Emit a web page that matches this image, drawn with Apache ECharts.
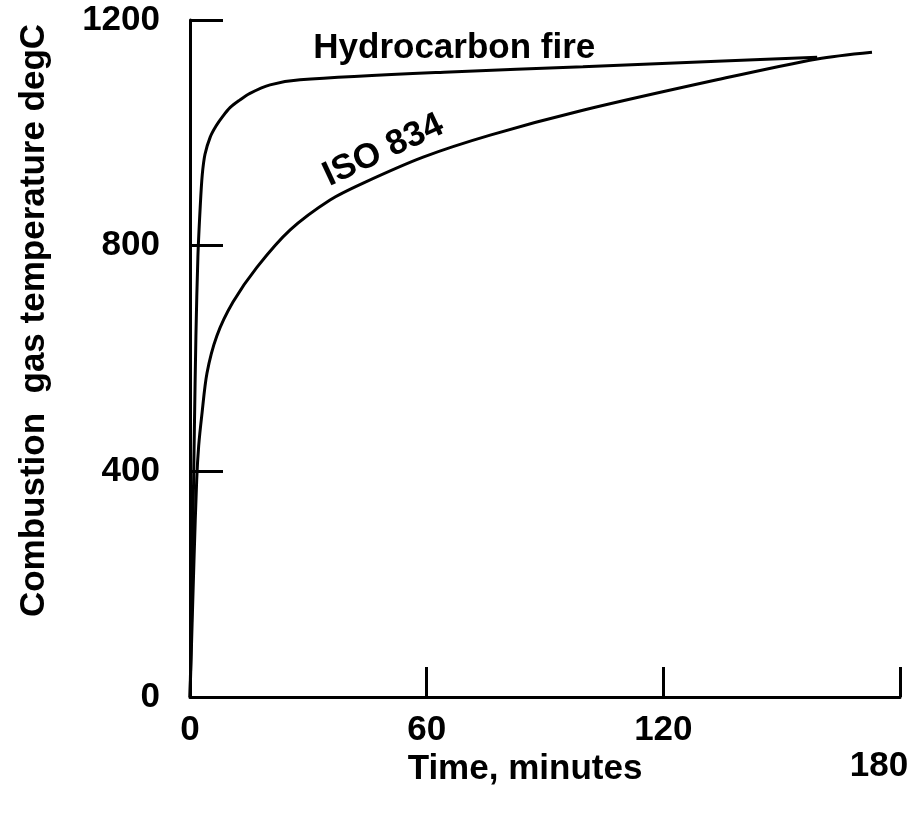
<!DOCTYPE html>
<html>
<head>
<meta charset="utf-8">
<title>Fire curves</title>
<script src="https://cdn.jsdelivr.net/npm/echarts@6/dist/echarts.min.js"></script>
<style>
    html, body { margin: 0; padding: 0; background: #fff; }
    #chart { width: 921px; height: 814px; }
</style>
</head>
<body>
<div id="chart"></div>
<script>
// time in minutes, temperature in degC
const hydroTime = [0, 0.5, 0.8, 1.1, 1.5, 2.0, 2.6, 3.1, 3.8, 5.1, 6.6, 8.4, 10.2, 12.6, 15.2, 20.3, 27.9, 65.9, 99.6, 133.6, 159]
const hydroTemp = [0, 172, 330, 470, 640, 780, 870, 925, 962, 992, 1012, 1030, 1045, 1058, 1070, 1085, 1094, 1108, 1117, 1127, 1134]

const isoTime = [0, 1.0, 1.7, 2.2, 3.0, 4.3, 6.8, 10.9, 17.0, 25.4, 35.5, 43.9, 59.1, 76.1, 99.6, 133.6, 159, 172.9]
const isoTemp = [0, 240, 385, 445, 500, 574, 640, 700, 762, 828, 881, 911, 957, 996, 1040, 1094, 1131, 1143]

const xTicks = [0, 60, 120, 180]
const yTicks = [0, 400, 800, 1200]

const font = 'Liberation Sans, Arial, Helvetica, sans-serif'

function pairs(xs, ys) {
    return xs.map((x, i) => [x, ys[i]])
}

const chart = echarts.init(document.getElementById('chart'))

const lineStyle = { color: '#000', width: 3 }
const labelText = { color: '#000', fontFamily: font, fontWeight: 'bold', fontSize: 35 }

let option = {
    animation: false,
    grid: {
        left: 190,
        right: 21,
        top: 20,
        bottom: 117,
        containLabel: false,
        outerBoundsMode: 'none'
    },
    xAxis: {
        type: 'value',
        min: xTicks[0],
        max: xTicks[xTicks.length - 1],
        interval: 60,
        name: 'Time, minutes',
        nameLocation: 'middle',
        nameGap: 55,
        nameMoveOverlap: false,
        nameTextStyle: Object.assign({}, labelText, { padding: [0, 40, 0, 0] }),
        axisLine: { lineStyle: { color: '#000', width: 3 } },
        axisTick: { inside: true, length: 30, lineStyle: { color: '#000', width: 3 } },
        splitLine: { show: false },
        axisLabel: {
            margin: 16,
            formatter: v => v === 180 ? '{low|' + v + '}' : '' + v,
            color: '#000',
            fontFamily: font,
            fontWeight: 'bold',
            fontSize: 35,
            rich: {
                low: { color: '#000', fontFamily: font, fontWeight: 'bold', fontSize: 35, padding: [36, 42, 0, 0] }
            }
        }
    },
    yAxis: {
        type: 'value',
        min: yTicks[0],
        max: yTicks[yTicks.length - 1],
        interval: 400,
        name: 'Combustion  gas temperature degC',
        nameLocation: 'middle',
        nameGap: 138,
        nameMoveOverlap: false,
        nameTextStyle: Object.assign({}, labelText, { padding: [0, 0, 0, 76] }),
        axisLine: { lineStyle: { color: '#000', width: 3 } },
        axisTick: { inside: true, length: 33, lineStyle: { color: '#000', width: 3 } },
        splitLine: { show: false },
        axisLabel: Object.assign({ margin: 30, formatter: v => '' + v }, labelText)
    },
    series: [
        {
            name: 'Hydrocarbon fire',
            type: 'line',
            showSymbol: false,
            smooth: 0.3,
            lineStyle: lineStyle,
            data: pairs(hydroTime, hydroTemp),
            markPoint: {
                symbol: 'circle',
                symbolSize: 0,
                label: Object.assign({ show: true, formatter: 'Hydrocarbon fire' }, labelText),
                data: [{ coord: [67, 1150] }]
            }
        },
        {
            name: 'ISO 834',
            type: 'line',
            showSymbol: false,
            smooth: 0.3,
            lineStyle: lineStyle,
            data: pairs(isoTime, isoTemp),
            markPoint: {
                symbol: 'circle',
                symbolSize: 0,
                label: Object.assign({ show: true, formatter: 'ISO 834', rotate: 25 }, labelText),
                data: [{ coord: [49, 969] }]
            }
        }
    ]
}

chart.setOption(option, true)
</script>
</body>
</html>
